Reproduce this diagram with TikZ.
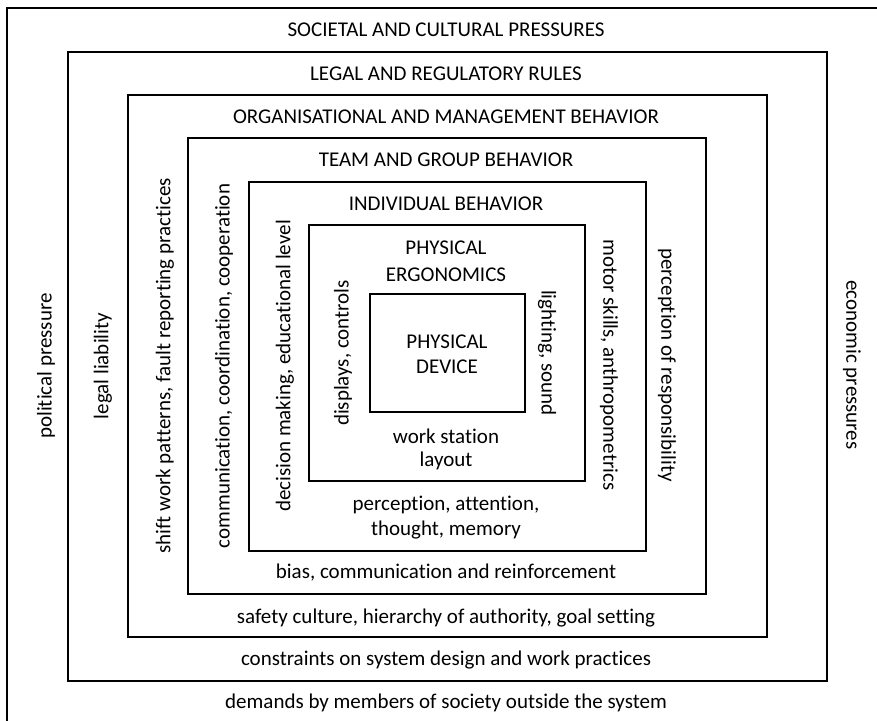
\documentclass[tikz,border=0pt]{standalone}
\usepackage{fontspec}
\setmainfont[Ligatures=CommonOff]{Carlito}
\begin{document}
\begin{tikzpicture}[x=1pt,y=-1pt,
  frame/.style={line width=2.7pt},
  lbl/.style={inner sep=0pt,anchor=base,font=\fontsize{21}{25}\selectfont},
  upl/.style={inner sep=0pt,anchor=center,rotate=90,font=\fontsize{21}{25}\selectfont},
  dnl/.style={inner sep=0pt,anchor=center,rotate=-90,font=\fontsize{21}{25}\selectfont}]
\useasboundingbox (0,0) rectangle (877,720);
\begin{scope}
\clip (0,0) rectangle (877,720);
\draw[frame] (7,8) rectangle (900,740);
\end{scope}
\draw[frame] (68,52) rectangle (827,681);
\draw[frame] (128,95) rectangle (767,637);
\draw[frame] (188,138) rectangle (706,594);
\draw[frame] (249,182) rectangle (646,551);
\draw[frame] (309,225) rectangle (585,481);
\draw[frame] (370,294) rectangle (525,412);
% top labels
\node[lbl] (t1) at (446,36) {SOCIETAL AND CULTURAL PRESSURES};
\node[lbl] (t2) at (446,80.5) {LEGAL AND REGULATORY RULES};
\node[lbl] (t3) at (446,123) {ORGANISATIONAL AND MANAGEMENT BEHAVIOR};
\node[lbl] (t4) at (446,166) {TEAM AND GROUP BEHAVIOR};
\node[lbl] (t5) at (446,210) {INDIVIDUAL BEHAVIOR};
\node[lbl] (t6a) at (446,254) {PHYSICAL};
\node[lbl] (t6b) at (446,281) {ERGONOMICS};
\node[lbl] (t7a) at (447,348) {PHYSICAL};
\node[lbl] (t7b) at (447,373) {DEVICE};
% bottom labels
\node[lbl] (b6a) at (446,443) {work station};
\node[lbl] (b6b) at (446,466) {layout};
\node[lbl] (b5a) at (446,510) {perception, attention,};
\node[lbl] (b5b) at (446,535) {thought, memory};
\node[lbl] (b4) at (446,578) {bias, communication and reinforcement};
\node[lbl] (b3) at (446,623) {safety culture, hierarchy of authority, goal setting};
\node[lbl] (b2) at (446,665) {constraints on system design and work practices};
\node[lbl] (b1) at (446,708) {demands by members of society outside the system};
% left labels
\node[upl] (l1) at (46,366) {political pressure};
\node[upl] (l2) at (103,366) {legal liability};
\node[upl] (l3) at (165,366) {shift work patterns, fault reporting practices};
\node[upl] (l4) at (224,366) {communication, coordination, cooperation};
\node[upl] (l5) at (285,366) {decision making, educational level};
\node[upl] (l6) at (343,353) {displays, controls};
% right labels
\node[dnl] (r6) at (547,353) {lighting, sound};
\node[dnl] (r5) at (609,365) {motor skills, anthropometrics};
\node[dnl] (r4) at (667,365) {perception of responsibility};
\node[dnl] (r1) at (852,365) {economic pressures};
\end{tikzpicture}
\end{document}
